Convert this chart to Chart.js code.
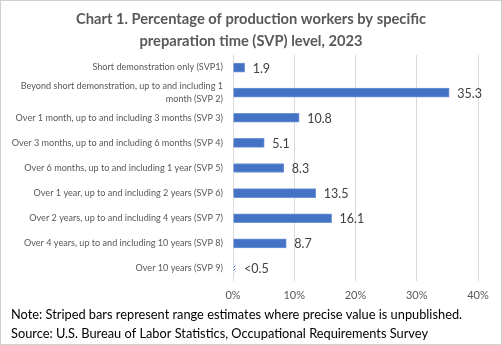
<!DOCTYPE html>
<html>
<head>
<meta charset="utf-8">
<script src="https://cdn.jsdelivr.net/npm/chart.js@4.4.1/dist/chart.umd.min.js"></script>
<style>
    html, body { margin: 0; padding: 0; background: #fff; }
    #svp-chart { display: block; }
</style>
</head>
<body>
<canvas id="svp-chart" width="502" height="345"></canvas>
<script>
const categories = [
    'Short demonstration only (SVP1)',
    ['Beyond short demonstration, up to and including 1', 'month (SVP 2)'],
    'Over 1 month, up to and including 3 months (SVP 3)',
    'Over 3 months, up to and including 6 months (SVP 4)',
    'Over 6 months, up to and including 1 year (SVP 5)',
    'Over 1 year, up to and including 2 years (SVP 6)',
    'Over 2 years, up to and including 4 years (SVP 7)',
    'Over 4 years, up to and including 10 years (SVP 8)',
    'Over 10 years (SVP 9)'
];
const percents    = [1.9, 35.3, 10.8, 5.1, 8.3, 13.5, 16.1, 8.7, 0.5];
const valueLabels = ['1.9', '35.3', '10.8', '5.1', '8.3', '13.5', '16.1', '8.7', '<0.5'];
const striped     = [false, false, false, false, false, false, false, false, true];
const xTicks      = [0, 10, 20, 30, 40];

const chartColors = {
    'bar'   : '#4472C4',
    'text'  : '#595959',
    'label' : '#404040',
    'grid'  : '#D9D9D9',
    'frame' : '#D0D0D0'
};

const FONT = "Lato, 'Open Sans', sans-serif";

// diagonal hatch for range-estimate bars
function makeStripes()
{
    let c = document.createElement('canvas');
    c.width = 3;
    c.height = 3;
    let g = c.getContext('2d');
    g.fillStyle = '#ffffff';
    g.fillRect(0, 0, 3, 3);
    g.fillStyle = chartColors['bar'];
    g.fillRect(2, 0, 1, 1);
    g.fillRect(1, 1, 1, 1);
    g.fillRect(0, 2, 1, 1);
    return g.createPattern(c, 'repeat');
}

const stripePattern = makeStripes();

const decorations = {
    id: 'decorations',
    beforeDraw(chart) {
        const ctx = chart.ctx;
        ctx.save();
        ctx.strokeStyle = chartColors['frame'];
        ctx.lineWidth = 1;
        ctx.strokeRect(0.5, 0.5, chart.width - 1, chart.height - 1);

        ctx.fillStyle = chartColors['text'];
        ctx.font = "bold 14.7px " + FONT;
        ctx.textAlign = 'center';
        ctx.textBaseline = 'middle';
        ctx.fillText('Chart 1. Percentage of production workers by specific', 251, 19);
        ctx.fillText('preparation time (SVP) level, 2023', 251, 41);
        ctx.restore();
    },
    afterDatasetsDraw(chart) {
        const ctx = chart.ctx;
        const meta = chart.getDatasetMeta(0);
        ctx.save();
        ctx.fillStyle = chartColors['label'];
        ctx.font = "12.5px " + FONT;
        ctx.textAlign = 'left';
        ctx.textBaseline = 'middle';
        meta.data.forEach(function (bar, i) {
            ctx.fillText(valueLabels[i], bar.x + 8, bar.y + 1);
        });

        ctx.fillStyle = '#000000';
        ctx.font = "12.8px " + FONT;
        ctx.textBaseline = 'middle';
        ctx.fillText('Note: Striped bars represent range estimates where precise value is unpublished.', 11, 315);
        ctx.fillText('Source: U.S. Bureau of Labor Statistics, Occupational Requirements Survey', 11, 334);
        ctx.restore();
    }
};

new Chart(document.getElementById('svp-chart'), {
    type: 'bar',
    data: {
        labels: categories,
        datasets: [{
            data: percents,
            backgroundColor: percents.map((v, i) => striped[i] ? stripePattern : chartColors['bar']),
            borderColor: percents.map((v, i) => striped[i] ? 'rgba(0,0,0,0)' : '#6E95D6'),
            borderWidth: 1,
            barThickness: 9
        }]
    },
    options: {
        indexAxis: 'y',
        responsive: false,
        animation: false,
        layout: {
            padding: { top: 55, left: 0, right: 24, bottom: 40 }
        },
        plugins: {
            legend: { display: false },
            tooltip: { enabled: false }
        },
        scales: {
            x: {
                min: 0,
                max: 40,
                afterBuildTicks: function (scale) {
                    scale.ticks = xTicks.map(v => ({ value: v }));
                },
                afterFit: function (scale) {
                    scale.height = 24;
                },
                grid: { color: chartColors['grid'], drawTicks: false },
                border: { display: false },
                ticks: {
                    padding: 8,
                    color: chartColors['text'],
                    font: { family: FONT, size: 11 },
                    callback: v => v + '%'
                }
            },
            y: {
                afterFit: function (scale) {
                    scale.width = 233;
                },
                grid: { display: false, drawTicks: false },
                border: { display: false },
                ticks: {
                    autoSkip: false,
                    padding: 10,
                    color: chartColors['text'],
                    font: { family: FONT, size: 9.1, lineHeight: 1.45 }
                }
            }
        }
    },
    plugins: [decorations]
});
</script>
</body>
</html>
